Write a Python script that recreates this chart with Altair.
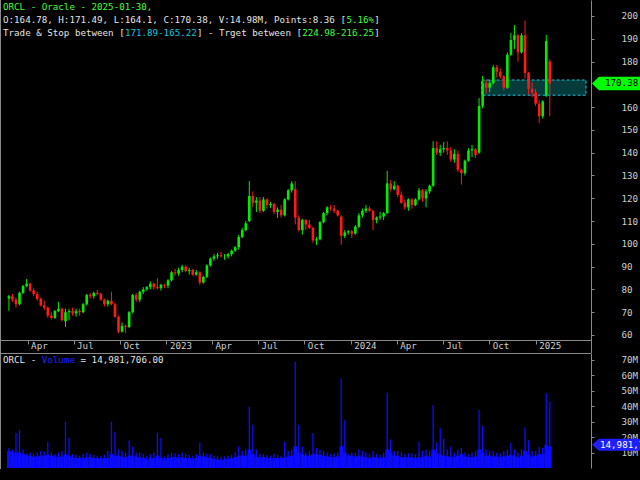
import altair as alt
import pandas as pd
import jinja2

# ---------------- data (weekly candles) ----------------
opens = [
    76.0, 77.0, 75.5, 73.5, 78.5, 81.5, 82.5, 79.5, 78.0, 75.8, 73.0, 72.0, 68.5, 67.5, 70.5,
    71.5, 66.0, 70.0, 70.5, 69.5, 70.5, 70.0, 73.5, 77.5, 77.0, 78.5, 78.0, 75.5, 73.5, 75.0,
    73.5, 68.0, 61.5, 64.0, 63.5, 70.0, 77.5, 75.5, 79.0, 80.0, 81.0, 82.5, 81.0, 80.5, 82.0,
    81.7, 84.0, 87.5, 87.0, 88.5, 90.0, 88.0, 88.5, 86.5, 87.5, 83.0, 85.5, 90.5, 93.5, 94.5,
    95.0, 94.5, 94.5, 95.5, 97.0, 98.5, 103.0, 106.0, 110.0, 121.0, 118.0, 119.0, 114.5, 119.5, 117.0,
    117.5, 114.0, 115.0, 112.5, 119.5, 123.5, 124.0, 111.5, 106.0, 110.5, 108.5, 107.0, 101.5, 102.0, 109.5,
    113.5, 116.0, 115.5, 114.5, 112.0, 103.5, 105.0,
    105.5, 104.5, 107.5, 112.5, 114.5, 115.5, 114.5, 110.5, 111.5, 112.0, 113.5, 126.5, 124.0, 125.5, 121.5,
    118.0, 116.0, 119.5, 117.0, 119.5, 123.5, 120.0, 123.0, 125.5, 142.0, 140.0, 141.5, 142.0, 141.0, 137.0,
    139.5, 132.5, 131.0, 136.5, 141.0, 141.5, 140.0, 160.5, 170.5, 168.5, 170.5, 177.5, 175.5, 173.5, 168.5,
    183.0, 189.5, 191.5, 184.0, 191.5, 175.0, 168.0,
    166.5, 161.5, 156.0, 165.0, 180.0,
]
highs = [
    77.6, 78.0, 76.5, 79.0, 82.0, 84.5, 83.0, 80.5, 79.0, 76.5, 75.0, 72.5, 70.0, 71.0, 74.5,
    72.0, 71.5, 71.5, 72.0, 71.5, 71.5, 74.0, 78.0, 78.5, 79.0, 79.8, 78.5, 76.0, 75.5, 79.0,
    74.0, 68.5, 65.5, 64.5, 70.5, 78.0, 78.5, 79.5, 81.0, 81.5, 83.5, 83.0, 85.0, 82.5, 82.5,
    84.5, 88.0, 89.0, 89.5, 90.8, 90.5, 89.5, 89.0, 88.5, 88.0, 86.0, 91.0, 94.0, 95.5, 96.0,
    96.5, 95.5, 96.0, 97.5, 99.0, 104.0, 107.0, 110.0, 127.5, 123.0, 120.5, 120.5, 120.5, 120.0, 118.4,
    118.0, 116.0, 117.0, 120.0, 124.0, 127.5, 127.5, 112.5, 111.0, 110.8, 110.5, 107.5, 103.0, 110.0, 114.0,
    116.5, 117.0, 117.0, 115.0, 112.5, 106.0, 106.0,
    106.0, 108.3, 113.5, 115.5, 117.0, 116.5, 115.0, 112.0, 114.0, 114.0, 132.0, 128.0, 127.5, 126.0, 123.0,
    119.5, 120.0, 120.0, 120.0, 124.5, 124.0, 124.0, 126.0, 145.0, 145.0, 143.5, 144.7, 145.0, 142.5, 141.5,
    141.0, 133.0, 137.0, 142.0, 143.4, 142.0, 164.0, 173.7, 172.0, 172.0, 178.5, 178.5, 177.0, 174.0, 184.0,
    192.5, 196.0, 192.0, 192.5, 198.0, 175.5, 171.0,
    168.0, 163.0, 163.0, 191.7, 181.0,
]
lows = [
    70.6, 74.5, 72.0, 73.0, 78.0, 81.0, 79.0, 77.0, 75.0, 72.5, 71.0, 67.5, 66.8, 67.0, 70.0,
    66.0, 63.5, 66.5, 68.5, 68.0, 68.5, 69.5, 73.0, 76.0, 76.0, 77.5, 75.0, 72.5, 72.5, 73.0,
    67.5, 60.8, 61.0, 60.8, 63.0, 69.5, 74.5, 74.5, 78.0, 79.5, 80.0, 80.0, 80.0, 79.5, 80.5,
    80.5, 83.5, 86.0, 86.0, 87.5, 87.5, 86.5, 86.0, 86.0, 82.0, 82.5, 85.0, 90.0, 92.5, 93.5,
    94.0, 93.0, 93.5, 94.5, 96.5, 97.5, 102.5, 105.5, 109.5, 116.0, 114.0, 113.5, 114.0, 115.5, 115.8,
    113.0, 111.4, 111.5, 112.0, 119.0, 122.5, 108.5, 105.5, 104.0, 106.0, 106.5, 100.5, 99.5, 101.5, 109.0,
    112.5, 114.5, 113.5, 112.0, 99.6, 102.5, 104.0,
    102.6, 104.0, 107.0, 111.5, 113.5, 114.0, 106.0, 109.0, 110.5, 110.5, 113.0, 123.0, 123.5, 120.5, 117.5,
    115.0, 114.5, 115.5, 116.5, 119.0, 118.5, 116.0, 122.0, 125.0, 139.0, 138.5, 140.0, 139.0, 136.0, 135.5,
    131.5, 126.0, 130.0, 136.0, 138.0, 137.7, 139.5, 159.5, 166.0, 166.5, 170.0, 173.0, 172.5, 167.5, 168.0,
    182.5, 185.5, 180.0, 183.5, 172.5, 165.5, 164.5,
    160.5, 153.0, 155.0, 164.5, 156.0,
]
closes = [
    77.0, 75.5, 73.5, 78.5, 81.5, 82.5, 79.5, 78.0, 75.8, 73.0, 72.0, 68.5, 67.5, 70.5, 71.5,
    66.5, 70.0, 70.5, 69.5, 70.5, 70.0, 73.5, 77.5, 77.0, 78.5, 78.0, 75.5, 73.5, 75.0, 73.5,
    68.0, 61.5, 64.0, 63.5, 70.0, 77.5, 75.5, 79.0, 80.0, 81.0, 82.5, 81.0, 80.5, 82.0, 81.7,
    84.0, 87.5, 87.0, 88.5, 90.0, 88.0, 88.5, 86.5, 87.5, 83.0, 85.5, 90.5, 93.5, 94.5, 95.0,
    94.5, 94.5, 95.5, 97.0, 98.5, 103.0, 106.0, 109.0, 121.0, 118.0, 119.0, 114.5, 119.5, 117.0, 117.5,
    114.0, 115.0, 112.5, 119.5, 123.5, 126.5, 111.5, 106.0, 110.5, 108.5, 107.0, 101.5, 102.0, 109.5, 113.5,
    116.0, 115.5, 114.5, 112.5, 103.5, 105.0, 105.5,
    104.5, 107.5, 112.5, 114.5, 115.5, 114.5, 110.5, 111.5, 112.0, 113.5, 126.5, 124.0, 125.5, 121.5, 118.0,
    116.0, 119.5, 117.0, 119.5, 123.5, 120.0, 123.0, 125.5, 142.0, 140.0, 141.5, 142.0, 141.0, 137.0, 139.5,
    132.5, 131.0, 136.5, 141.0, 141.5, 139.0, 160.5, 170.5, 168.5, 170.5, 177.5, 175.5, 173.5, 168.5, 183.0,
    189.5, 191.5, 184.0, 191.5, 175.0, 168.0, 166.5,
    161.5, 156.0, 162.5, 189.0, 170.38,
]
# volume in millions: typical daily level of the week, and the week's largest day
vol_base = [
    11, 10.5, 10, 10, 9, 8, 8, 7.5, 7.5, 8,
    8, 8.5, 8, 7.5, 7, 7.5, 9, 8, 7, 6.5,
    6.5, 6.5, 7, 7, 6.5, 6.5, 6, 6.5, 6.5, 9,
    8, 8, 7.5, 7, 8, 8, 7.5, 7, 6.5, 5.5,
    6.5, 6.5, 8, 6.5, 5.5, 6.5, 7, 7, 6.5, 7,
    6.5, 6.5, 6, 6.5, 8, 7.5, 7, 6.5, 6, 5.5,
    5.5, 5.5, 6, 6.5, 7, 8, 8, 8, 12, 9,
    7.5, 7, 7, 6.5, 6.5, 6.5, 6.5, 6.5, 7, 7.5,
    8, 14, 10, 9, 8, 8, 9, 9, 8.5, 8,
    7.5, 7, 7, 7.5, 14, 10, 8, 8, 7.5, 8,
    7.5, 7, 6.5, 7, 7, 6.5, 7, 12, 10, 8,
    8, 7, 7, 7, 7, 6.5, 7, 7, 8, 7.5,
    12, 10, 9, 8, 7.5, 7.5, 7, 8, 9, 7.5,
    7, 7, 7.5, 12, 10, 8, 8, 7.5, 7.5, 7,
    7.5, 8, 8.5, 8, 7, 8, 11, 9, 7.5, 8,
    9, 9, 15, 14,
]
vol_peak = [
    13, 12, 22.7, 24.6, 12, 9.5, 10, 9, 10, 11,
    10.5, 17, 10, 9, 10, 11, 30, 19.4, 9, 8.5,
    8, 9, 10, 9, 8.5, 8, 8, 8.5, 11, 30,
    23.5, 12, 11, 10, 18, 13.8, 10, 10, 9, 8,
    9, 10, 22.9, 19.4, 7.5, 9, 10, 9.5, 9, 10,
    9, 8.5, 8, 9, 16.4, 10, 9.5, 9, 8, 7.5,
    7, 7.5, 8, 8.5, 10, 14, 11, 12, 39.7, 28,
    12, 9, 9, 8.5, 8, 9, 8.5, 8, 17, 11,
    12, 68.9, 28, 14, 10, 11, 22.7, 13, 12, 11,
    10, 9, 9.5, 10, 58, 31, 9, 10, 10, 12,
    11, 10, 9, 11, 9, 8.5, 10, 48.8, 18.4, 11,
    11, 10, 9, 9.5, 9.5, 9, 17, 11, 12, 11,
    40.8, 16.4, 25.7, 19, 12, 14, 10, 12, 13, 10,
    9, 10, 11, 37.6, 27.2, 12, 11, 11, 10, 9.5,
    11, 12, 16.4, 12, 10, 12, 26.4, 18, 11, 11,
    14, 13, 48.4, 43,
]
week_dates = pd.date_range("2022-02-23", periods=len(closes), freq="7D").strftime("%Y-%m-%d")

# the 170 label sits under the last-price marker in the reference, so it is not drawn
price_ticks = [60, 70, 80, 90, 100, 110, 120, 130, 140, 150, 160, 180, 190, 200]
volume_ticks = [10, 20, 30, 40, 50, 60, 70]
time_ticks = ["2022-04-01", "2022-07-01", "2022-10-01", "2023-01-01", "2023-04-01", "2023-07-01",
              "2023-10-01", "2024-01-01", "2024-04-01", "2024-07-01", "2024-10-01", "2025-01-01"]

last_close = 170.38
last_volume = 14.981706
last_volume_text = "14,981,706.00"
box_start = "2024-09-16"
box_top, box_bottom = 171.89, 165.22

title1 = "ORCL - Oracle - 2025-01-30,"
title2 = ["O:164.78, H:171.49, L:164.1, C:170.38, V:14.98M, Points:8.36 [", "5.16%", "]"]
title3 = ["Trade & Stop between [", "171.89-165.22", "] - Trget between [", "224.98-216.25", "]"]
vol_title = ["ORCL - ", "Volume", " = 14,981,706.00"]

# ---------------- styling ----------------
MONO = "DejaVu Sans Mono"
FS = 9.2
CW = 5.54
UP, DOWN = "#00ee00", "#ff1a1a"
VOL = "#0c0cff"
WHITE = "#e4e4e4"
GREEN = "#3cff3c"
CYAN = "#19c3dc"
GRID = "#8a8a8a"
LABEL = "#cfcfcf"


def ms(s):
    return int(pd.Timestamp(s, tz="UTC").value // 10**6)


x_start, x_end = ms("2022-02-15T05:30:00"), ms("2025-04-10T17:00:00")
xs = alt.Scale(domain=[x_start, x_end], nice=False)
ps = alt.Scale(domain=[57.8, 207.0], range=[340, 0], nice=False, zero=False)
vs = alt.Scale(domain=[0, 74.5], range=[468, 353], nice=False, zero=False)

df = pd.DataFrame({
    "date": week_dates, "open": opens, "high": highs, "low": lows, "close": closes,
    "vbase": vol_base, "vpeak": vol_peak,
})
one = pd.DataFrame({"k": [0]})

updown = alt.condition("datum.close >= datum.open", alt.value(UP), alt.value(DOWN))

x_axis = alt.Axis(
    orient="bottom", offset=-129, values=[ms(t) for t in time_ticks],
    labelExpr="utcmonth(datum.value) == 0 ? utcFormat(datum.value, '%Y') : utcFormat(datum.value, '%b')",
    labelAlign="left", labelBaseline="top", labelOffset=3, labelPadding=-3, tickSize=4,
    labelFont=MONO, labelFontSize=FS, labelColor=LABEL, labelFlush=False, labelOverlap=False,
    domainColor=GRID, tickColor=GRID, grid=False, title=None,
)
p_axis = alt.Axis(
    orient="right", values=price_ticks, tickSize=3, labelPadding=27, labelAlign="left",
    labelFont=MONO, labelFontSize=FS, labelColor=LABEL, domainColor=GRID, tickColor=GRID,
    grid=False, title=None, labelOverlap=False, labelFlush=False,
)
v_axis = alt.Axis(
    orient="right", values=volume_ticks, labelExpr="datum.value + 'M'", tickSize=3,
    labelPadding=27, labelAlign="left", labelFont=MONO, labelFontSize=FS, labelColor=LABEL,
    domainColor=GRID, tickColor=GRID, grid=False, title=None, labelOverlap=False, labelFlush=False,
)

base = alt.Chart(df)

box = alt.Chart(pd.DataFrame({"bx": [ms(box_start)], "bx2": [x_end], "top": [box_top], "bot": [box_bottom]})).mark_rect(
    fill="#063b3b", stroke=CYAN, strokeDash=[3, 2], strokeWidth=1
).encode(
    x=alt.X("bx:T", scale=xs, axis=x_axis), x2="bx2",
    y=alt.Y("top:Q", scale=ps, axis=p_axis), y2="bot",
)
wicks = base.mark_rule(strokeWidth=1).encode(
    x=alt.X("date:T", scale=xs, axis=x_axis),
    y=alt.Y("low:Q", scale=ps, axis=p_axis), y2="high", color=updown,
)
bodies = base.mark_bar(size=2.6).encode(
    x=alt.X("date:T", scale=xs, axis=x_axis),
    y=alt.Y("open:Q", scale=ps, axis=p_axis), y2="close", color=updown,
)
ARROW_P = "M-1,0L-0.767,-0.223L1,-0.223L1,0.223L-0.767,0.223Z"
ARROW_V = "M-1,0L-0.767,-0.2L1,-0.2L1,0.2L-0.767,0.2Z"
plabel_df = pd.DataFrame({"p": [last_close], "t": [f"{last_close:.2f}"]})
p_arrow = alt.Chart(plabel_df).mark_point(
    shape=ARROW_P, size=3600, filled=True, opacity=1, color="#00ff00", strokeWidth=0
).encode(x=alt.value(622), y=alt.Y("p:Q", scale=ps, axis=p_axis))
p_text = alt.Chart(plabel_df).mark_text(
    align="left", baseline="middle", font=MONO, fontSize=FS, color="#000000"
).encode(x=alt.value(605), y=alt.Y("p:Q", scale=ps, axis=p_axis), text="t:N")

price = alt.layer(box, wicks, bodies, p_arrow, p_text)

vbars = base.mark_bar(size=3.7, color=VOL).encode(
    x=alt.X("date:T", scale=xs, axis=x_axis),
    y=alt.Y("vbase:Q", scale=vs, axis=v_axis),
)
vspikes = base.mark_bar(size=1.3, color=VOL).encode(
    x=alt.X("date:T", scale=xs, axis=x_axis),
    y=alt.Y("vpeak:Q", scale=vs, axis=v_axis),
)
vlabel_df = pd.DataFrame({"v": [last_volume], "t": [last_volume_text]})
v_arrow = alt.Chart(vlabel_df).mark_point(
    shape=ARROW_V, size=3600, filled=True, opacity=1, color="#1e1eff", strokeWidth=0
).encode(x=alt.value(622), y=alt.Y("v:Q", scale=vs, axis=v_axis))
v_text = alt.Chart(vlabel_df).mark_text(
    align="left", baseline="middle", font=MONO, fontSize=FS, color="#ffffff"
).encode(x=alt.value(600), y=alt.Y("v:Q", scale=vs, axis=v_axis), text="t:N")

volume = alt.layer(vbars, vspikes, v_arrow, v_text)

# frame lines
frame = [
    alt.Chart(one).mark_rule(color=GRID, strokeWidth=1).encode(x=alt.value(0.5), y=alt.value(0), y2=alt.value(469)),
    alt.Chart(one).mark_rule(color=GRID, strokeWidth=1).encode(x=alt.value(591.5), y=alt.value(340), y2=alt.value(353)),
    alt.Chart(one).mark_rule(color=GRID, strokeWidth=1).encode(x=alt.value(0), x2=alt.value(591), y=alt.value(353.5)),
]


def segs(parts, colors, y):
    out, n = [], 0
    for s, c in zip(parts, colors):
        lead = len(s) - len(s.lstrip(" "))
        out.append(
            alt.Chart(one).mark_text(
                text=s.strip(" "), align="left", baseline="middle", font=MONO, fontSize=FS, color=c
            ).encode(x=alt.value(3 + (n + lead) * CW), y=alt.value(y))
        )
        n += len(s)
    return out


texts = (
    segs([title1], [GREEN], 7)
    + segs(title2, [WHITE, GREEN, WHITE], 20)
    + segs(title3, [WHITE, CYAN, WHITE, GREEN, WHITE], 33)
    + segs(vol_title, [WHITE, "#2323ff", WHITE], 360)
)

chart = alt.layer(*frame, price, volume, *texts).resolve_scale(y="independent").properties(
    width=591, height=469,
    autosize=alt.AutoSizeParams(type="none"),
    padding={"left": 0, "top": 0, "right": 49, "bottom": 11},
).configure(background="#000000").configure_view(strokeWidth=0)

TEMPLATE = jinja2.Template("""<!DOCTYPE html>
<html>
<head>
  <style>
    html, body { margin: 0; padding: 0; background: #000000; overflow: hidden; }
    #{{ output_div }}.vega-embed { display: block; }
  </style>
  <script type="text/javascript" src="{{ base_url }}/vega@{{ vega_version }}"></script>
  <script type="text/javascript" src="{{ base_url }}/vega-lite@{{ vegalite_version }}"></script>
  <script type="text/javascript" src="{{ base_url }}/vega-embed@{{ vegaembed_version }}"></script>
</head>
<body>
  <div id="{{ output_div }}"></div>
  <script type="text/javascript">
    (function(vegaEmbed) {
      var spec = {{ spec }};
      var embedOpt = {{ embed_options }};
      var el = document.getElementById('{{ output_div }}');
      vegaEmbed("#{{ output_div }}", spec, embedOpt).catch(function(error) {
        el.innerHTML = '<div style="color:red;">' + error.message + '</div>';
      });
    })(vegaEmbed);
  </script>
</body>
</html>
""")

try:
    chart.save("out.html", embed_options={"renderer": "svg", "actions": False}, template=TEMPLATE)
except Exception:
    chart.save("out.html", embed_options={"renderer": "svg", "actions": False})
